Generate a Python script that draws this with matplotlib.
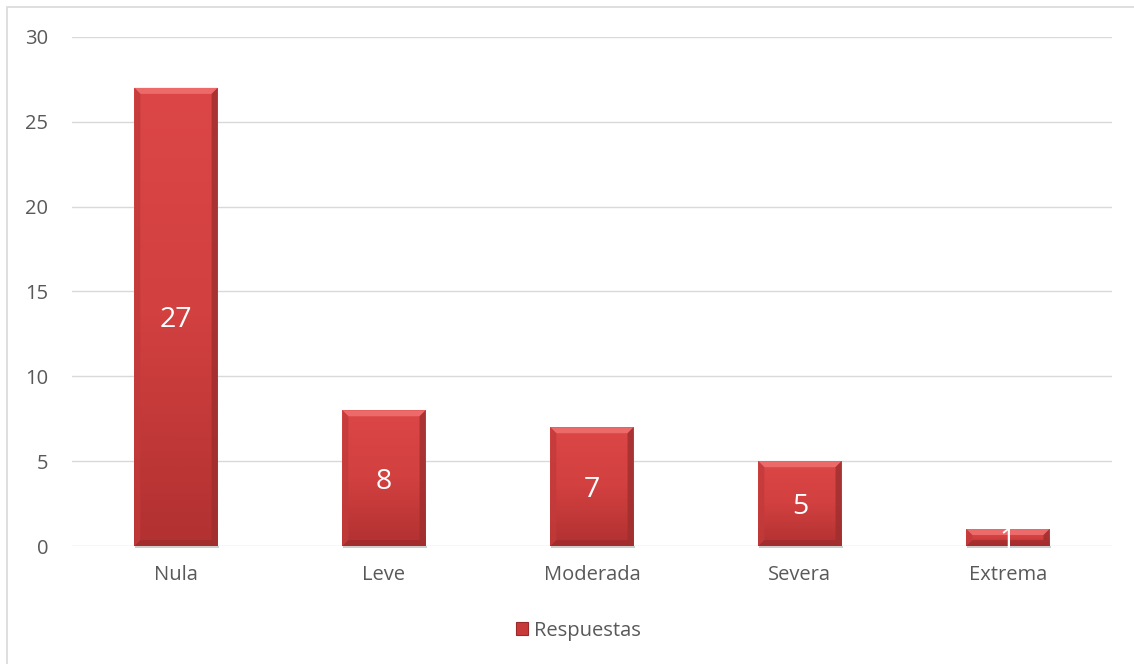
import matplotlib.pyplot as plt
import matplotlib.patches as mpatches
import numpy as np
from matplotlib.colors import LinearSegmentedColormap

categorias = ['Nula', 'Leve', 'Moderada', 'Severa', 'Extrema']
respuestas = [27, 8, 7, 5, 1]
serie = 'Respuestas'
yticks = [0, 5, 10, 15, 20, 25, 30]

plt.rcParams['font.family'] = ['Open Sans', 'DejaVu Sans']
gris = '#595959'

fig = plt.figure(figsize=(11.34, 6.64), dpi=100)
ax = fig.add_axes([0.0635, 0.1777, 0.917, 0.7666])

x = np.arange(len(categorias))
ancho = 0.4
bars = ax.bar(x, respuestas, width=ancho, color='#c83a3a', zorder=2)

ax.set_xlim(-0.5, len(categorias) - 0.5)
ax.set_ylim(0, 30)

# bevel size in pixels, turned into data units
px_x = 1040 / len(categorias)
px_y = 509 / 30
bx, by = 6 / px_x, 6 / px_y

grad = LinearSegmentedColormap.from_list('rojo', ['#dc4646', '#d24040', '#b23131'])

for b, v in zip(bars, respuestas):
    x0, w, h = b.get_x(), b.get_width(), b.get_height()
    x1 = x0 + w
    # shadow under the bar
    ax.add_patch(mpatches.Rectangle((x0 + 0.005, -0.12), w, 0.12, color='#cfcfcf',
                                    zorder=1.5, clip_on=False, lw=0))
    # vertical gradient fill
    img = np.linspace(0, 1, 64).reshape(-1, 1)
    im = ax.imshow(img, cmap=grad, aspect='auto', extent=(x0, x1, 0, h),
                   origin='upper', zorder=2.1, interpolation='bilinear')
    im.set_clip_path(b)
    # bevel edges
    top = [(x0, h), (x1, h), (x1 - bx, h - by), (x0 + bx, h - by)]
    bot = [(x0, 0), (x1, 0), (x1 - bx, by), (x0 + bx, by)]
    left = [(x0, 0), (x0, h), (x0 + bx, h - by), (x0 + bx, by)]
    right = [(x1, 0), (x1, h), (x1 - bx, h - by), (x1 - bx, by)]
    ax.add_patch(mpatches.Polygon(top, closed=True, color='#ec6a6a', lw=0, zorder=2.2))
    ax.add_patch(mpatches.Polygon(bot, closed=True, color='#9a2a2a', lw=0, zorder=2.2, alpha=0.6))
    ax.add_patch(mpatches.Polygon(left, closed=True, color='#c23a3a', lw=0, zorder=2.2, alpha=0.8))
    ax.add_patch(mpatches.Polygon(right, closed=True, color='#9e2e2e', lw=0, zorder=2.2, alpha=0.8))
    ax.text(b.get_x() + w / 2, h / 2, str(v), ha='center', va='center_baseline',
            color='white', fontsize=20.5, zorder=3)

ax.set_yticks(yticks)
ax.set_xticks(x)
ax.set_xticklabels(categorias)
ax.tick_params(axis='both', length=0, labelsize=14.5, labelcolor=gris)
ax.tick_params(axis='y', pad=17)
ax.tick_params(axis='x', pad=14)
ax.grid(axis='y', color='#d9d9d9', lw=1, zorder=0)
ax.set_axisbelow(True)
for s in ax.spines.values():
    s.set_visible(False)

handle = mpatches.Patch(facecolor='#c83a3a', edgecolor='#9a2a2a', lw=0.8)
fig.legend([handle], [serie], loc='center', bbox_to_anchor=(0.51, 0.05),
           frameon=False, fontsize=14.5, labelcolor=gris, handlelength=0.6,
           handleheight=0.6, handletextpad=0.3)

# chart area border
fig.add_artist(mpatches.Rectangle((7 / 1134, -0.01), 1.02, 1 - 7 / 664 + 0.01,
                                  transform=fig.transFigure, fill=False,
                                  edgecolor='#d9d9d9', lw=1.2))

fig.savefig('out.png', dpi=100)
